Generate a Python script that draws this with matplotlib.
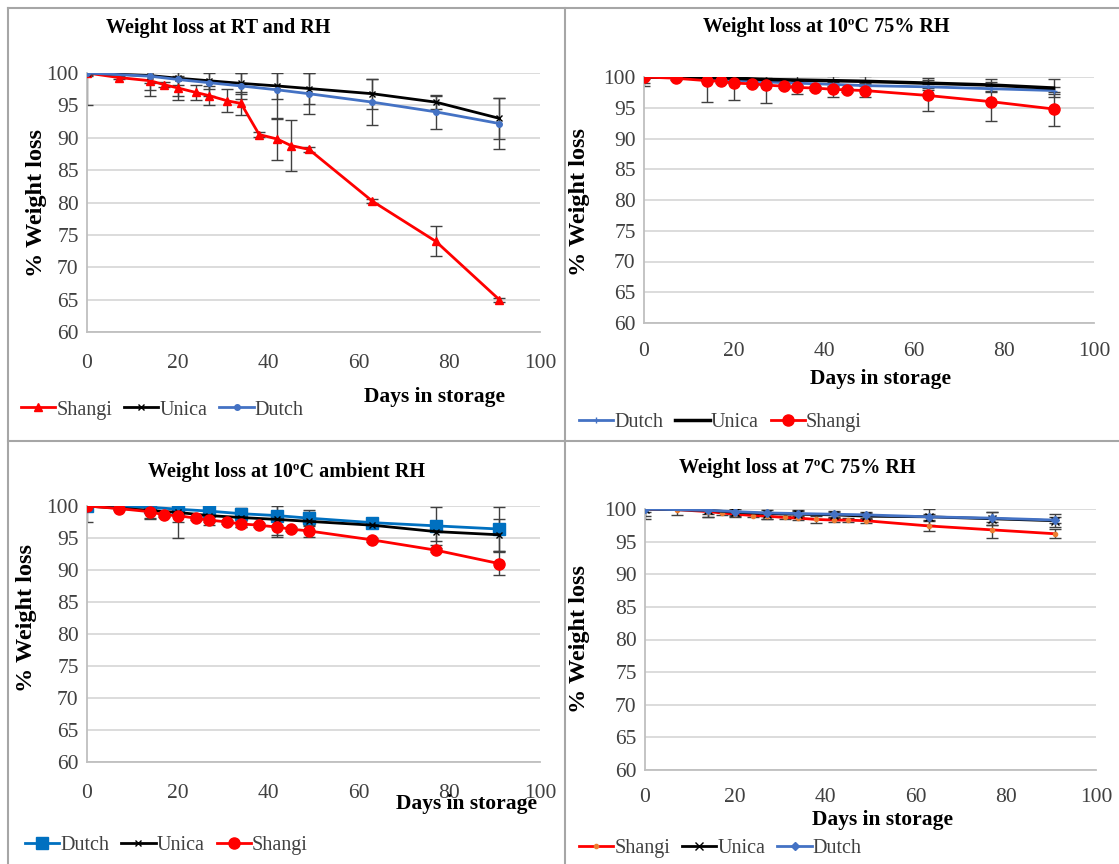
import matplotlib
matplotlib.use("Agg")
import matplotlib.pyplot as plt
from matplotlib.lines import Line2D

plt.rcParams['font.family'] = ['Liberation Serif', 'DejaVu Serif']

W, H = 1119, 864

days_all = [0, 7, 14, 17, 20, 24, 27, 31, 34, 38, 42, 45, 49, 63, 77, 91]
days_sub = [0, 14, 20, 27, 34, 42, 49, 63, 77, 91]

# Panel 1: RT and RH
p1_shangi = [100, 99.3, 98.8, 98.2, 97.7, 97.0, 96.5, 95.7, 95.3, 90.5, 89.8, 88.8, 88.2, 80.2, 74.0, 65.0]
p1_shangi_err = [0.3, 0.3, 1.5, 0.4, 1.8, 1.2, 1.5, 1.8, 1.8, 0.4, 3.3, 4.0, 0.4, 0.3, 2.3, 0.3]
p1_unica = [100, 99.6, 99.2, 98.8, 98.4, 98.0, 97.6, 96.8, 95.5, 93.0]
p1_unica_err = [5.0, 1.2, 1.0, 1.2, 1.6, 2.0, 2.4, 2.3, 1.0, 3.2]
p1_dutch = [100, 99.5, 99.0, 98.5, 98.0, 97.4, 96.8, 95.5, 94.0, 92.2]
p1_dutch_err = [0.5, 3.0, 2.5, 2.0, 2.0, 4.5, 3.2, 3.5, 2.6, 4.0]

# Panel 2: 10C 75% RH
p2_dutch = [100, 99.8, 99.5, 99.2, 99.0, 98.8, 98.6, 98.4, 98.1, 97.8]
p2_dutch_err = [1.0, 0.5, 0.5, 0.5, 0.5, 0.5, 0.5, 0.5, 0.5, 0.5]
p2_unica = [100, 99.9, 99.8, 99.6, 99.5, 99.4, 99.3, 99.0, 98.7, 98.2]
p2_unica_err = [1.5, 0.5, 0.5, 0.5, 0.8, 0.8, 0.8, 0.8, 1.0, 1.5]
p2_shangi = [100, 99.8, 99.4, 99.3, 99.0, 98.9, 98.7, 98.5, 98.3, 98.2, 98.0, 97.9, 97.8, 97.0, 96.0, 94.8]
p2_shangi_err = [0.3, 0.3, 3.5, 0.3, 2.8, 0.3, 3.0, 0.3, 1.0, 0.3, 1.2, 0.3, 1.0, 2.5, 3.2, 2.7]

# Panel 3: 10C ambient RH
p3_dutch = [100, 99.8, 99.5, 99.2, 98.8, 98.5, 98.1, 97.4, 96.9, 96.4]
p3_dutch_err = [0.5, 0.5, 0.5, 0.5, 0.5, 1.5, 1.2, 0.5, 3.0, 3.5]
p3_unica = [100, 99.3, 99.0, 98.5, 98.2, 97.9, 97.6, 97.0, 96.0, 95.5]
p3_unica_err = [2.5, 1.3, 4.0, 1.0, 1.5, 2.5, 1.5, 0.5, 1.5, 2.5]
p3_shangi = [100, 99.6, 99.1, 98.6, 98.5, 98.1, 97.8, 97.5, 97.2, 97.0, 96.7, 96.4, 96.1, 94.7, 93.1, 91.0]
p3_shangi_err = [0.5, 0.3, 1.0, 0.3, 1.0, 0.3, 0.8, 0.3, 0.5, 0.3, 1.5, 0.3, 1.0, 0.3, 0.3, 1.8]

# Panel 4: 7C 75% RH
p4_shangi = [100, 99.9, 99.6, 99.4, 99.2, 99.0, 98.9, 98.7, 98.6, 98.4, 98.3, 98.3, 98.2, 97.4, 96.8, 96.2]
p4_shangi_err = [1.5, 0.8, 0.8, 0.3, 0.5, 0.3, 0.5, 0.3, 0.3, 0.5, 0.3, 0.3, 0.3, 0.8, 1.2, 0.7]
p4_unica = [100, 99.8, 99.5, 99.3, 99.2, 99.1, 98.9, 98.8, 98.5, 98.2]
p4_unica_err = [1.0, 1.0, 0.5, 0.8, 0.5, 0.5, 0.5, 1.2, 1.0, 1.0]
p4_dutch = [100, 99.8, 99.6, 99.4, 99.3, 99.2, 99.1, 98.8, 98.6, 98.3]
p4_dutch_err = [0.5, 0.5, 0.5, 0.5, 0.5, 0.5, 0.5, 0.5, 1.0, 0.5]

yticks = [60, 65, 70, 75, 80, 85, 90, 95, 100]
xticks = [0, 20, 40, 60, 80, 100]

RED = '#FF0000'
BLUE = '#4472C4'
BLUE2 = '#0070C0'
BLACK = '#000000'

fig = plt.figure(figsize=(W / 100, H / 100), dpi=100)


def make_ax(l, r, t, b, xpad=16):
    ax = fig.add_axes([l / W, 1 - b / H, (r - l) / W, (b - t) / H])
    ax.set_xlim(0, 100)
    ax.set_ylim(60, 100)
    ax.set_xticks(xticks)
    ax.set_yticks(yticks)
    ax.grid(axis='y', color='#d9d9d9', lw=1.3)
    ax.set_axisbelow(True)
    for s in ['top', 'right']:
        ax.spines[s].set_visible(False)
    for s in ['left', 'bottom']:
        ax.spines[s].set_color('#bfbfbf')
        ax.spines[s].set_linewidth(1.3)
    ax.tick_params(length=0, labelsize=15.5, colors='#404040', pad=6)
    ax.tick_params(axis='x', pad=xpad)
    return ax


def series(ax, x, y, e, color, marker, ms, label, lw=2.0, mfc=None):
    ax.errorbar(x, y, yerr=e, fmt='none', ecolor='#404040', elinewidth=1.0,
                capsize=4, capthick=1.0, zorder=2)
    ln, = ax.plot(x, y, color=color, lw=lw, marker=marker, ms=ms,
                  mfc=mfc if mfc else color, mec=mfc if mfc else color, label=label, zorder=3)
    return ln


def title(txt, xc, yc):
    fig.text(xc / W, 1 - yc / H, txt, ha='center', va='center', fontsize=14.5, fontweight='bold')


def ylabel(xc, yc):
    fig.text(xc / W, 1 - yc / H, '% Weight loss', rotation=90, ha='center', va='center',
             fontsize=17.5, fontweight='bold')


def xlabel(xc, yc):
    fig.text(xc / W, 1 - yc / H, 'Days in storage', ha='center', va='center',
             fontsize=15.5, fontweight='bold')


def legend(handles, x, y):
    fig.legend(handles=handles, loc='center left', bbox_to_anchor=(x / W, 1 - y / H),
               ncol=3, frameon=False, fontsize=14.5, handlelength=1.7, handletextpad=0.05,
               columnspacing=0.6, labelcolor='#404040', borderaxespad=0, borderpad=0)


# Panel 1
ax1 = make_ax(87, 540, 73, 332)
h_s = series(ax1, days_all, p1_shangi, p1_shangi_err, RED, '^', 6, 'Shangi')
h_u = series(ax1, days_sub, p1_unica, p1_unica_err, BLACK, 'x', 4, 'Unica')
h_d = series(ax1, days_sub, p1_dutch, p1_dutch_err, BLUE, 'o', 4, 'Dutch')
title('Weight loss at RT and RH', 218, 28)
ylabel(37, 203)
xlabel(434, 397)
legend([h_s, h_u, h_d], 21, 410)

# Panel 2
ax2 = make_ax(644, 1094, 77, 323, xpad=14)
h_d = series(ax2, days_sub, p2_dutch, p2_dutch_err, BLUE, '+', 4, 'Dutch')
h_u = series(ax2, days_sub, p2_unica, p2_unica_err, BLACK, None, 0, 'Unica', lw=2.5)
h_s = series(ax2, days_all, p2_shangi, p2_shangi_err, RED, 'o', 8, 'Shangi')
title('Weight loss at 10\u00baC 75% RH', 826, 27)
ylabel(580, 202)
xlabel(881, 379)
legend([h_d, h_u, h_s], 579, 422)

# Panel 3
ax3 = make_ax(87, 540, 506, 762)
h_d = series(ax3, days_sub, p3_dutch, p3_dutch_err, BLUE2, 's', 8, 'Dutch')
h_u = series(ax3, days_sub, p3_unica, p3_unica_err, BLACK, 'x', 5, 'Unica')
h_s = series(ax3, days_all, p3_shangi, p3_shangi_err, RED, 'o', 8, 'Shangi')
title('Weight loss at 10\u00baC ambient RH', 287, 472)
ylabel(27, 618)
xlabel(466, 804)
legend([h_d, h_u, h_s], 25, 845)

# Panel 4
ax4 = make_ax(645, 1096, 509, 770, xpad=13)
h_s = series(ax4, days_all, p4_shangi, p4_shangi_err, RED, 'o', 3, 'Shangi', mfc='#ED7D31')
h_u = series(ax4, days_sub, p4_unica, p4_unica_err, BLACK, 'x', 6, 'Unica')
h_d = series(ax4, days_sub, p4_dutch, p4_dutch_err, BLUE, 'D', 4, 'Dutch')
title('Weight loss at 7\u00baC 75% RH', 797, 468)
ylabel(580, 639)
xlabel(882, 820)
legend([h_s, h_u, h_d], 579, 848)

# panel frame lines
for coords in [((8 / W, 8 / W), (0, 1 - 8 / H)),
               ((8 / W, 1), (1 - 8 / H, 1 - 8 / H)),
               ((565 / W, 565 / W), (0, 1 - 8 / H)),
               ((8 / W, 1), (1 - 441 / H, 1 - 441 / H))]:
    fig.add_artist(Line2D(coords[0], coords[1], color='#a6a6a6', lw=1.5))

fig.savefig('out.png', dpi=100, facecolor='white')
